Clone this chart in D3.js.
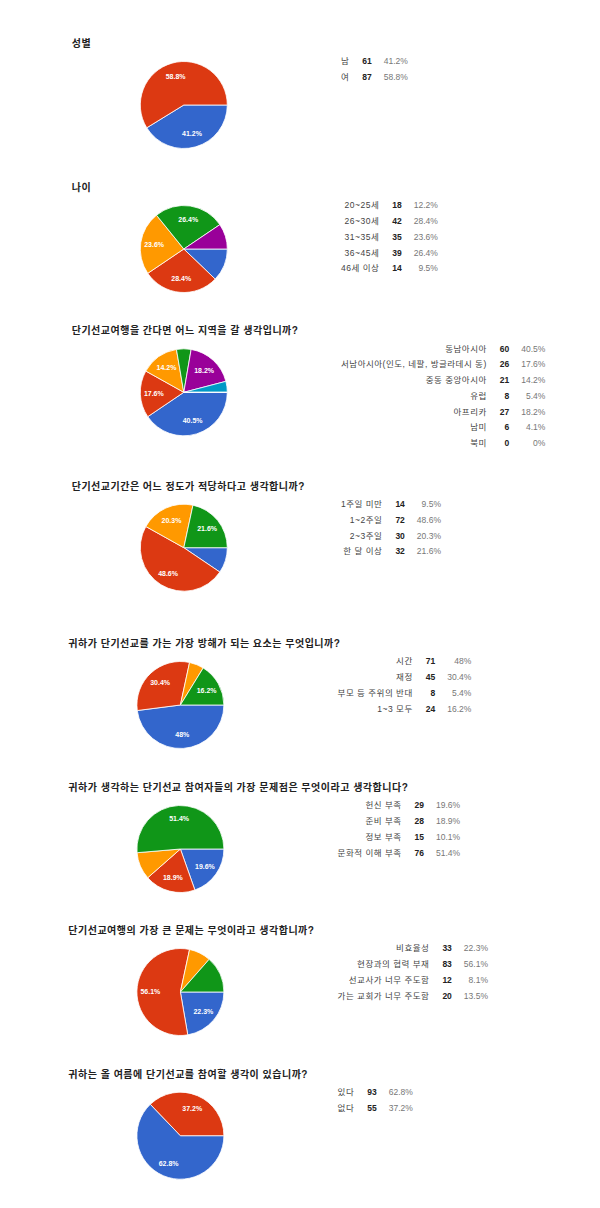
<!DOCTYPE html>
<html>
<head>
<meta charset="utf-8">
<script src="https://cdn.jsdelivr.net/npm/d3@7"></script>
<style>
  body { margin: 0; background: #fff; }
  text { font-family: Arial, "Liberation Sans", "Noto Sans CJK KR", sans-serif; }
</style>
</head>
<body>
<div id="survey"></div>
<script>
// survey questions
var titles = [
  "성별",
  "나이",
  "단기선교여행을 간다면 어느 지역을 갈 생각입니까?",
  "단기선교기간은 어느 정도가 적당하다고 생각합니까?",
  "귀하가 단기선교를 가는 가장 방해가 되는 요소는 무엇입니까?",
  "귀하가 생각하는 단기선교 참여자들의 가장 문제점은 무엇이라고 생각합니다?",
  "단기선교여행의 가장 큰 문제는 무엇이라고 생각합니까?",
  "귀하는 올 여름에 단기선교를 참여할 생각이 있습니까?"
];

// answers and counts per question
var genderLabels = ["남", "여"];
var genderCounts = [61, 87];

var ageLabels = ["20~25세", "26~30세", "31~35세", "36~45세", "46세 이상"];
var ageCounts = [18, 42, 35, 39, 14];

var regionLabels = ["동남아시아", "서남아시아(인도, 네팔, 방글라데시 동)", "중동 중앙아시아", "유럽", "아프리카", "남미", "북미"];
var regionCounts = [60, 26, 21, 8, 27, 6, 0];

var periodLabels = ["1주일 미만", "1~2주일", "2~3주일", "한 달 이상"];
var periodCounts = [14, 72, 30, 32];

var obstacleLabels = ["시간", "재정", "부모 등 주위의 반대", "1~3 모두"];
var obstacleCounts = [71, 45, 8, 24];

var problemLabels = ["헌신 부족", "준비 부족", "정보 부족", "문화적 이해 부족"];
var problemCounts = [29, 28, 15, 76];

var issueLabels = ["비효율성", "현장과의 협력 부재", "선교사가 너무 주도함", "가는 교회가 너무 주도함"];
var issueCounts = [33, 83, 12, 20];

var joinLabels = ["있다", "없다"];
var joinCounts = [93, 55];

var charts = [
  {labels: genderLabels, counts: genderCounts},
  {labels: ageLabels, counts: ageCounts},
  {labels: regionLabels, counts: regionCounts},
  {labels: periodLabels, counts: periodCounts},
  {labels: obstacleLabels, counts: obstacleCounts},
  {labels: problemLabels, counts: problemCounts},
  {labels: issueLabels, counts: issueCounts},
  {labels: joinLabels, counts: joinCounts}
];

// layout: pie centre y and a small left shift for the lower half
var centerY = [105, 249, 392.3, 547.7, 705, 849, 992, 1135.7];
var shiftX = [0, 0, 0, 0, -3.4, -3.4, -3.4, -3.4];

var width = 600, height = 1208;
var radius = 43.5;
var colors = ["#3366cc", "#dc3912", "#ff9900", "#109618", "#990099", "#0099c6", "#dd4477"];
var fmtPct = d3.format(".1~f");

var svg = d3.select("#survey")
  .append("svg")
  .attr("width", width)
  .attr("height", height);

var pie = d3.pie()
  .sort(null)
  .startAngle(Math.PI / 2)
  .endAngle(Math.PI / 2 + 2 * Math.PI);

var arc = d3.arc().innerRadius(0).outerRadius(radius);
var labelArc = d3.arc().innerRadius(radius * 0.69).outerRadius(radius * 0.69);

charts.forEach(function(c, i) {
  var cy = centerY[i];
  var dx = shiftX[i];
  var total = d3.sum(c.counts);
  var g = svg.append("g");

  // title
  g.append("text")
    .attr("x", 71.7 + dx)
    .attr("y", cy - 61.5)
    .attr("dy", "0.35em")
    .style("font-size", "10px")
    .style("letter-spacing", "0.5px")
    .style("font-weight", "bold")
    .style("fill", "#222")
    .text(titles[i]);

  // pie
  var slices = pie(c.counts);
  var pg = g.append("g")
    .attr("transform", "translate(" + (183.8 + dx) + "," + cy + ")");

  pg.selectAll("path")
    .data(slices)
    .enter()
    .append("path")
    .attr("d", arc)
    .style("fill", function(d, j) { return colors[j]; })
    .style("stroke", "#fff")
    .style("stroke-width", 0.8);

  pg.selectAll("text")
    .data(slices.filter(function(d) { return d.value / total >= 0.14; }))
    .enter()
    .append("text")
    .attr("transform", function(d) { return "translate(" + labelArc.centroid(d) + ")"; })
    .attr("dy", "0.35em")
    .attr("text-anchor", "middle")
    .style("font-size", "7px")
    .style("font-weight", "bold")
    .style("fill", "#fff")
    .text(function(d) { return fmtPct(d.value / total * 100) + "%"; });

  // legend table: label | count | percent
  var left = 341 + dx;
  var rowY = function(j) { return cy - radius + j * 15.7; };

  var lab = g.selectAll(".lab")
    .data(c.labels)
    .enter()
    .append("text")
    .attr("class", "lab")
    .attr("y", function(d, j) { return rowY(j); })
    .attr("dy", "0.35em")
    .attr("text-anchor", "end")
    .style("font-size", "8.5px")
    .style("letter-spacing", "0.5px")
    .style("fill", "#444")
    .text(function(d) { return d; });

  var cnt = g.selectAll(".cnt")
    .data(c.counts)
    .enter()
    .append("text")
    .attr("class", "cnt")
    .attr("y", function(d, j) { return rowY(j); })
    .attr("dy", "0.35em")
    .attr("text-anchor", "end")
    .style("font-size", "8.5px")
    .style("font-weight", "bold")
    .style("fill", "#222")
    .text(function(d) { return d; });

  var pct = g.selectAll(".pct")
    .data(c.counts)
    .enter()
    .append("text")
    .attr("class", "pct")
    .attr("y", function(d, j) { return rowY(j); })
    .attr("dy", "0.35em")
    .attr("text-anchor", "end")
    .style("font-size", "8.5px")
    .style("fill", "#777")
    .text(function(d) { return fmtPct(d / total * 100) + "%"; });

  var maxW = function(sel) {
    var m = 0;
    sel.each(function() { m = Math.max(m, this.getComputedTextLength()); });
    return m;
  };

  var labelRight = left + maxW(lab);
  var countRight = labelRight + 13 + maxW(cnt);
  var pctRight = countRight + 12 + maxW(pct);

  lab.attr("x", labelRight);
  cnt.attr("x", countRight);
  pct.attr("x", pctRight);
});
</script>
</body>
</html>
